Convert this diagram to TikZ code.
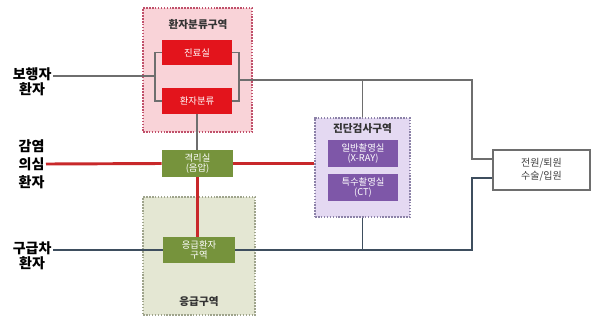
\documentclass[tikz,border=0pt]{standalone}
\usepackage{fontspec}
\setmainfont{Noto Sans CJK KR}
\usetikzlibrary{positioning}
\definecolor{redbox}{HTML}{E3141C}
\definecolor{redline}{HTML}{C8282A}
\definecolor{pinkzone}{HTML}{F9D3D8}
\definecolor{pinkedge}{HTML}{C0506A}
\definecolor{greenbox}{HTML}{76933C}
\definecolor{greenzone}{HTML}{E4E7D3}
\definecolor{greenedge}{HTML}{9FA48C}
\definecolor{purplebox}{HTML}{7E57A8}
\definecolor{purplezone}{HTML}{E4D9F2}
\definecolor{purpleedge}{HTML}{8C82A8}
\definecolor{grayline}{HTML}{6E6E6E}
\definecolor{darkline}{HTML}{3E4E5E}
\tikzset{
	zone/.style={rectangle, densely dotted, line width=1.2pt, inner sep=0pt},
	room/.style={rectangle, inner sep=0pt, align=center, text=white, font=\fontsize{7}{8}\selectfont},
	ztitle/.style={text=black!80, font=\bfseries\fontsize{8}{9}\selectfont},
	plabel/.style={align=center, inner sep=1pt, font=\bfseries\fontsize{10.5}{13.5}\selectfont},
	gline/.style={draw=grayline, line width=1.4pt},
	rline/.style={draw=redline, line width=2.2pt},
	dline/.style={draw=darkline, line width=1.4pt}
}
\begin{document}
\begin{tikzpicture}[x=0.75pt, y=-0.75pt]
	\useasboundingbox (0,0) rectangle (592,322);
	\node [zone, draw=pinkedge, fill=pinkzone, minimum width=81.75pt, minimum height=93pt] (triagezone) at (197.5,70) {};
	\node [zone, draw=greenedge, fill=greenzone, minimum width=84pt, minimum height=88.5pt] (emergzone) at (199,256) {};
	\node [zone, draw=purpleedge, fill=purplezone, minimum width=71.25pt, minimum height=74.25pt] (diagzone) at (362.5,167.5) {};
	\node [ztitle] at (198,24) {환자분류구역};
	\node [ztitle] at (199,302) {응급구역};
	\node [ztitle] at (362.5,129) {진단검사구역};
	\node [room, fill=redbox, minimum width=52.5pt, minimum height=18.75pt] (exam) at (197,52.5) {진료실};
	\node [room, fill=redbox, minimum width=52.5pt, minimum height=19.5pt] (triage) at (197,101) {환자분류};
	\node [room, fill=greenbox, minimum width=53.25pt, minimum height=20.25pt] (isol) at (197.5,163.5) {격리실\\(음압)};
	\node [room, fill=greenbox, minimum width=54pt, minimum height=19.5pt] (emerg) at (199,250) {응급환자\\구역};
	\node [room, fill=purplebox, minimum width=52.5pt, minimum height=20.25pt] (xray) at (363,153.5) {일반촬영실\\(X-RAY)};
	\node [room, fill=purplebox, minimum width=52.5pt, minimum height=20.25pt] (ct) at (363,187.5) {특수촬영실\\(CT)};
	\node [room, draw=grayline, fill=white, text=black!75, line width=0.8pt, minimum width=72.75pt, minimum height=30pt, font=\fontsize{7.5}{9.5}\selectfont] (exit) at (541.5,170) {전원/퇴원\\수술/입원};
	\node [plabel, anchor=east] (walkin) at (53,74) {보행자};
	\node [plabel, below=-0.5pt of walkin] (walkin2) {환자};
	\node [plabel, anchor=east] (infect) at (46,164) {감염\\의심\\환자};
	\node [plabel, anchor=east] (ambul) at (53,248) {구급차};
	\node [plabel, below=-0.5pt of ambul] (ambul2) {환자};
	\coordinate (lsplit) at (155,76);
	\coordinate (rsplit) at (239,80);
	\coordinate (upturn) at (472,80);
	\coordinate (lowturn) at (472,250);
	\draw [gline] (walkin.east |- lsplit) -- (lsplit);
	\draw [gline] (exam.west) -- (lsplit |- exam.west) -- (lsplit |- triage.west) -- (triage.west);
	\draw [gline] (exam.east) -- (rsplit |- exam.east) -- (rsplit |- triage.east) -- (triage.east);
	\draw [gline] (rsplit) -- (upturn) |- ([yshift=8pt]exit.west);
	\draw [gline] (diagzone.north) -- (diagzone.north |- upturn);
	\draw [gline] (triage.south) -- (triage.south |- isol.north);
	\draw [rline] (infect.east) -- (isol.west);
	\draw [rline] (isol.east) -- (isol.east -| diagzone.west);
	\draw [rline] (isol.south) -- (isol.south |- emerg.north);
	\draw [dline] (ambul.east |- lowturn) -- (emerg.west);
	\draw [dline] (emerg.east) -- (lowturn) |- ([yshift=-6pt]exit.west);
	\draw [dline] (diagzone.south) -- (diagzone.south |- lowturn);
\end{tikzpicture}
\end{document}
